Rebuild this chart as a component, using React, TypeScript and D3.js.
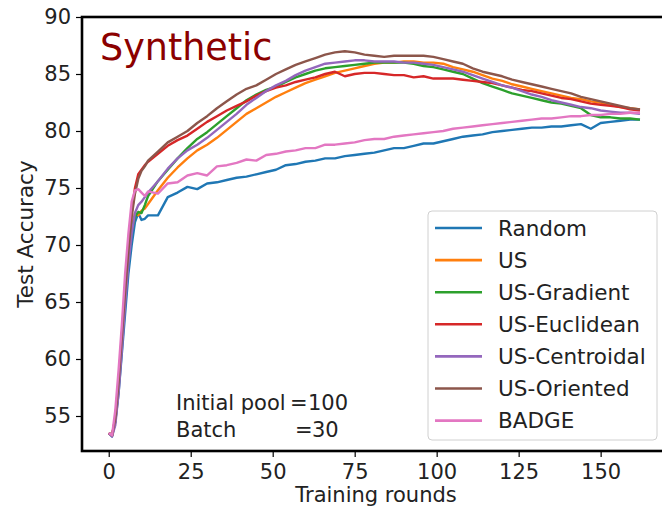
import React, { useEffect, useRef } from 'react';
import * as d3 from 'd3';

const rounds = [0, 1, 2, 3, 4, 5, 6, 7, 8, 9, 10, 11, 12, 15, 18, 21, 24, 27, 30, 33, 36, 39, 42, 45, 48, 51, 54, 57, 60, 63, 66, 69, 72, 75, 78, 81, 84, 87, 90, 93, 96, 99, 102, 105, 108, 111, 114, 117, 120, 123, 126, 129, 132, 135, 138, 141, 144, 147, 150, 153, 156, 159, 162];

const randomAcc = [53.5, 53.2, 54.5, 57.0, 60.5, 64.0, 67.5, 70.0, 72.0, 72.8, 72.2, 72.3, 72.6,
  72.6, 74.2, 74.6, 75.1, 74.9, 75.4, 75.5, 75.7, 75.9, 76.0, 76.2, 76.4, 76.6, 77.0, 77.1, 77.3, 77.4, 77.6, 77.6, 77.8, 77.9, 78.0, 78.1, 78.3, 78.5, 78.5, 78.7, 78.9, 78.9, 79.1, 79.3, 79.5, 79.6, 79.7, 79.9, 80.0, 80.1, 80.2, 80.3, 80.3, 80.4, 80.4, 80.5, 80.6, 80.2, 80.7, 80.8, 80.9, 81.0, 81.0];
const usAcc = [53.5, 53.3, 54.6, 57.8, 61.8, 65.8, 69.0, 71.5, 72.8, 72.6, 73.0, 73.2, 73.6,
  74.8, 75.9, 76.8, 77.6, 78.3, 78.8, 79.4, 80.1, 80.8, 81.5, 82.0, 82.5, 83.0, 83.4, 83.8, 84.2, 84.5, 84.8, 85.1, 85.3, 85.5, 85.7, 85.9, 86.0, 86.0, 86.1, 86.1, 86.0, 86.0, 85.9, 85.6, 85.4, 85.2, 84.9, 84.6, 84.4, 84.1, 83.9, 83.7, 83.5, 83.3, 83.1, 82.9, 82.8, 82.6, 82.5, 82.3, 82.1, 82.0, 81.9];
const gradientAcc = [53.5, 53.3, 54.5, 57.5, 61.5, 65.5, 68.8, 71.2, 72.5, 72.9, 72.8, 73.5, 74.3,
  75.6, 76.6, 77.6, 78.5, 79.3, 79.9, 80.6, 81.3, 82.0, 82.7, 83.2, 83.6, 83.9, 84.3, 84.7, 85.0, 85.3, 85.5, 85.6, 85.7, 85.8, 85.9, 86.0, 86.0, 86.0, 86.0, 85.9, 85.7, 85.6, 85.4, 85.2, 85.0, 84.6, 84.2, 83.9, 83.6, 83.3, 83.1, 82.9, 82.7, 82.5, 82.4, 82.2, 82.0, 81.4, 81.2, 81.2, 81.1, 81.1, 81.0];
const euclideanAcc = [53.5, 53.3, 54.8, 58.0, 62.0, 66.0, 69.5, 72.8, 75.0, 76.2, 76.6, 77.0, 77.3,
  78.0, 78.7, 79.2, 79.6, 80.2, 80.8, 81.3, 81.8, 82.2, 82.6, 83.1, 83.5, 83.8, 84.0, 84.3, 84.5, 84.7, 85.0, 85.2, 84.8, 85.0, 85.1, 85.1, 85.0, 84.9, 84.9, 84.7, 84.8, 84.6, 84.6, 84.6, 84.5, 84.4, 84.3, 84.2, 84.0, 83.8, 83.6, 83.5, 83.3, 83.1, 82.9, 82.8, 82.6, 82.4, 82.3, 82.2, 82.1, 81.9, 81.8];
const centroidalAcc = [53.5, 53.2, 54.2, 57.0, 60.8, 64.8, 68.3, 71.0, 72.8, 73.5, 73.8, 74.2, 74.6,
  75.6, 76.7, 77.6, 78.3, 78.8, 79.4, 80.1, 80.8, 81.5, 82.3, 82.9, 83.5, 84.0, 84.4, 84.9, 85.3, 85.6, 85.9, 86.0, 86.1, 86.2, 86.2, 86.1, 86.1, 86.1, 86.0, 86.0, 85.9, 85.8, 85.6, 85.4, 85.2, 84.9, 84.6, 84.3, 84.0, 83.8, 83.5, 83.2, 83.0, 82.7, 82.5, 82.3, 82.1, 82.0, 81.8, 81.7, 81.6, 81.6, 81.5];
const orientedAcc = [53.5, 53.3, 54.8, 58.0, 62.0, 66.0, 69.5, 72.5, 74.5, 75.8, 76.5, 76.9, 77.4,
  78.2, 79.0, 79.5, 80.0, 80.7, 81.3, 82.0, 82.6, 83.2, 83.7, 84.0, 84.5, 85.0, 85.4, 85.8, 86.1, 86.4, 86.7, 86.9, 87.0, 86.9, 86.7, 86.6, 86.5, 86.6, 86.6, 86.6, 86.6, 86.5, 86.3, 86.1, 85.9, 85.5, 85.2, 85.0, 84.8, 84.5, 84.3, 84.1, 83.9, 83.7, 83.5, 83.3, 83.0, 82.8, 82.6, 82.4, 82.2, 82.0, 81.9];
const badgeAcc = [53.5, 53.3, 55.5, 59.0, 63.0, 67.5, 71.0, 73.8, 74.8, 74.9, 74.6, 74.3, 74.7,
  74.5, 75.4, 75.5, 76.1, 76.3, 76.1, 76.9, 77.0, 77.2, 77.5, 77.4, 77.9, 78.0, 78.2, 78.3, 78.5, 78.5, 78.8, 78.8, 78.9, 79.0, 79.2, 79.3, 79.3, 79.5, 79.6, 79.7, 79.8, 79.9, 80.0, 80.2, 80.3, 80.4, 80.5, 80.6, 80.7, 80.8, 80.9, 81.0, 81.1, 81.1, 81.2, 81.3, 81.3, 81.4, 81.4, 81.5, 81.5, 81.6, 81.6];

const seriesNames = ['Random', 'US', 'US-Gradient', 'US-Euclidean', 'US-Centroidal', 'US-Oriented', 'BADGE'];
const seriesValues = [randomAcc, usAcc, gradientAcc, euclideanAcc, centroidalAcc, orientedAcc, badgeAcc];
const colors = ['#1f77b4', '#ff7f0e', '#2ca02c', '#d62728', '#9467bd', '#8c564b', '#e377c2'];

const xTicks = [0, 25, 50, 75, 100, 125, 150];
const yTicks = [55, 60, 65, 70, 75, 80, 85, 90];

const FONT = '"DejaVu Sans", sans-serif';

const App: React.FC = () => {
  const svgRef = useRef<SVGSVGElement>(null);

  useEffect(() => {
    if (!svgRef.current) return;
    const svg = d3.select(svgRef.current);
    svg.selectAll('*').remove();

    const width = 662;
    const height = 510;
    const plot = { left: 82, right: 670, top: 17, bottom: 451 };

    const x = d3.scaleLinear().domain([-8.15, 171.15]).range([plot.left, plot.right]);
    const y = d3.scaleLinear().domain([51.93, 90]).range([plot.bottom, plot.top]);

    svg.append('rect').attr('width', width).attr('height', height).attr('fill', '#fff');

    // lines
    const line = d3.line<number>()
      .x((_, i) => x(rounds[i]))
      .y(d => y(d));

    seriesValues.forEach((vals, i) => {
      svg.append('path')
        .datum(vals)
        .attr('fill', 'none')
        .attr('stroke', colors[i])
        .attr('stroke-width', 2.4)
        .attr('stroke-linejoin', 'round')
        .attr('d', line);
    });

    // axes
    const xAxis = svg.append('g')
      .attr('transform', `translate(0,${plot.bottom})`)
      .call(d3.axisBottom(x).tickValues(xTicks).tickSize(6).tickPadding(7));
    const yAxis = svg.append('g')
      .attr('transform', `translate(${plot.left},0)`)
      .call(d3.axisLeft(y).tickValues(yTicks).tickSize(6).tickPadding(5));
    [xAxis, yAxis].forEach(g => {
      g.select('.domain').remove();
      g.selectAll('line').attr('stroke', '#000').attr('stroke-width', 1.2);
      g.selectAll('text').attr('font-family', FONT).attr('font-size', 21).attr('fill', '#222');
    });

    // spines
    svg.append('rect')
      .attr('x', plot.left).attr('y', plot.top)
      .attr('width', plot.right - plot.left).attr('height', plot.bottom - plot.top)
      .attr('fill', 'none').attr('stroke', '#000').attr('stroke-width', 2.6);

    // axis labels
    svg.append('text')
      .attr('x', (plot.left + plot.right) / 2).attr('y', 502)
      .attr('text-anchor', 'middle')
      .attr('font-family', FONT).attr('font-size', 21).attr('fill', '#222')
      .text('Training rounds');
    svg.append('text')
      .attr('transform', `translate(33,${(plot.top + plot.bottom) / 2}) rotate(-90)`)
      .attr('text-anchor', 'middle')
      .attr('font-family', FONT).attr('font-size', 21.5).attr('fill', '#222')
      .text('Test Accuracy');

    // title inside plot
    svg.append('text')
      .attr('x', 100).attr('y', 60)
      .attr('font-family', FONT).attr('font-size', 36.5).attr('fill', '#8b0000')
      .text('Synthetic');

    // annotation
    const ann = svg.append('g').attr('font-family', FONT).attr('font-size', 21).attr('fill', '#222');
    ann.append('text').attr('x', 176).attr('y', 410).text('Initial pool');
    ann.append('text').attr('x', 290).attr('y', 410).text('=');
    ann.append('text').attr('x', 308).attr('y', 410).text('100');
    ann.append('text').attr('x', 176).attr('y', 437).text('Batch');
    ann.append('text').attr('x', 295).attr('y', 437).text('=');
    ann.append('text').attr('x', 312).attr('y', 437).text('30');

    // legend
    const legend = svg.append('g');
    legend.append('rect')
      .attr('x', 428).attr('y', 211).attr('width', 229).attr('height', 229)
      .attr('rx', 4).attr('fill', '#fff').attr('fill-opacity', 0.8)
      .attr('stroke', '#d0d0d0').attr('stroke-width', 1);
    seriesNames.forEach((name, i) => {
      const cy = 228 + i * 32.1;
      legend.append('line')
        .attr('x1', 435).attr('x2', 482).attr('y1', cy).attr('y2', cy)
        .attr('stroke', colors[i]).attr('stroke-width', 2.6);
      legend.append('text')
        .attr('x', 498).attr('y', cy).attr('dy', '0.36em')
        .attr('font-family', FONT).attr('font-size', 21.5).attr('fill', '#222')
        .text(name);
    });
  }, []);

  return (
    <svg ref={svgRef} width={662} height={510}
      style={{ position: 'absolute', left: 0, top: 0, display: 'block' }} />
  );
};

export default App;
